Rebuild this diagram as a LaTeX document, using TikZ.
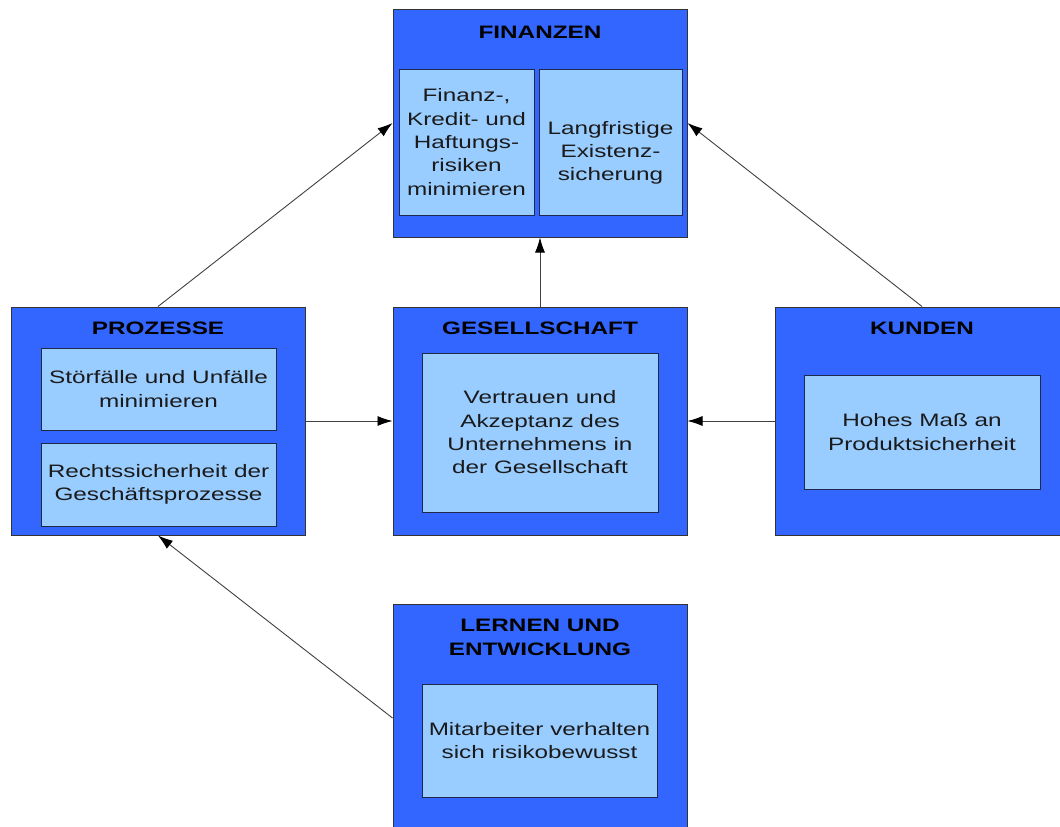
\documentclass[tikz,border=0pt]{standalone}
\usepackage{fontspec}
\setmainfont{Liberation Sans}[FakeStretch=1.35]
\usetikzlibrary{arrows.meta}
\definecolor{outerblue}{HTML}{3366FF}
\definecolor{innerblue}{HTML}{99CCFF}
\definecolor{edgegray}{HTML}{333333}
\definecolor{linkgray}{HTML}{404040}
\definecolor{celledge}{HTML}{1F2A4A}
\definecolor{inktext}{HTML}{1A1A1A}
\begin{document}
\begin{tikzpicture}[x=1pt,y=-1pt,
  panel/.style={draw=edgegray, line width=1pt, fill=outerblue,
    minimum width=294pt, minimum height=228pt, inner sep=0pt},
  cell/.style={draw=celledge, line width=0.9pt, fill=innerblue, inner sep=0pt,
    font=\fontsize{18}{23.3}\selectfont, text=inktext, align=center},
  body/.style={font=\fontsize{18}{23.3}\selectfont, text=inktext, align=center, inner sep=0pt},
  title/.style={font=\fontsize{18}{24}\selectfont\bfseries, text=black, align=center, inner sep=0pt},
  link/.style={draw=linkgray, line width=0.9pt,
    -{Latex[length=15pt,width=10pt,color=black]}}]
\useasboundingbox (0,0) rectangle (1060,827);
\clip (0,0) rectangle (1060,827);

% outer panels
\node[panel] (fin) at (540,123) {};
\node[panel] (pro) at (158,421) {};
\node[panel] (ges) at (540,421) {};
\node[panel] (kun) at (922,421) {};
\node[panel] (lern) at (540,718) {};

% panel titles
\node[title] (fintitle) at (540,32) {FINANZEN};
\node[title] (protitle) at (158,328) {PROZESSE};
\node[title] (gestitle) at (540,328) {GESELLSCHAFT};
\node[title] (kuntitle) at (922,328) {KUNDEN};
\node[title] (lerntitle) at (540,637) {LERNEN UND\\ENTWICKLUNG};

% inner cells
\node[cell, minimum width=135pt, minimum height=146pt] (frisk) at (466.5,142)
  {Finanz-,\\Kredit- und\\Haftungs-\\risiken\\minimieren};
\node[cell, minimum width=143pt, minimum height=146pt] (fexist) at (610.5,142) {};
\node[body] (fexisttext) at ([yshift=-11pt]fexist.center)
  {Langfristige\\Existenz-\\sicherung};
\node[cell, minimum width=235pt, minimum height=82pt] (pstoer) at (158.5,389)
  {Störfälle und Unfälle\\minimieren};
\node[cell, minimum width=235pt, minimum height=83pt] (precht) at (158.5,484.5)
  {Rechtssicherheit der\\Geschäftsprozesse};
\node[cell, minimum width=236pt, minimum height=159pt] (gvert) at (540,432.5)
  {Vertrauen und\\Akzeptanz des\\Unternehmens in\\der Gesellschaft};
\node[cell, minimum width=236pt, minimum height=114pt] (kprod) at (922,432)
  {Hohes Maß an\\Produktsicherheit};
\node[cell, minimum width=235pt, minimum height=113pt] (lmit) at (539.5,740.5)
  {Mitarbeiter verhalten\\sich risikobewusst};

% cause-and-effect links
\draw[link] (pro.north) -- (fin.west);
\draw[link] (ges.north) -- (fin.south);
\draw[link] (kun.north) -- (fin.east);
\draw[link] (pro.east) -- (ges.west);
\draw[link] (kun.west) -- (ges.east);
\draw[link] (lern.west) -- (pro.south);
\end{tikzpicture}
\end{document}
